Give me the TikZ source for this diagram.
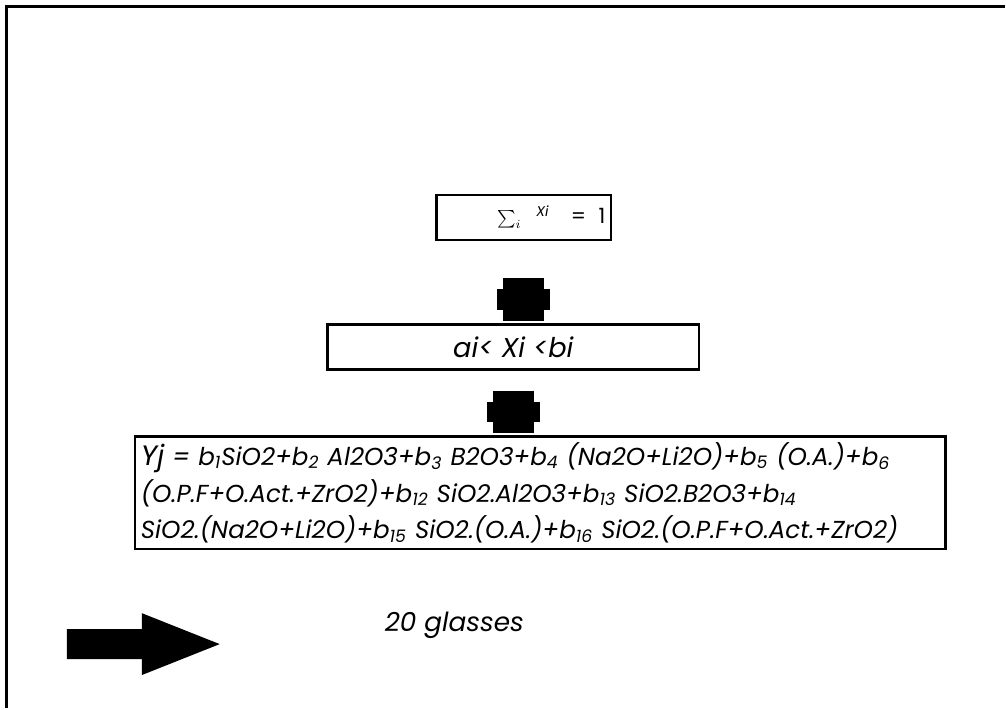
\documentclass[tikz,border=0pt]{standalone}
\usepackage{fontspec}
\setmainfont{Poppins}
\usetikzlibrary{positioning}
\newcommand{\bcoef}[1]{b\textsubscript{#1}}

\begin{document}
\begin{tikzpicture}[
    x=0.02cm, y=-0.02cm,
    box/.style={rectangle, draw=black, line width=1.3pt, inner sep=0pt, font=\itshape},
    plug/.style={line width=0.82cm, black},
    plugmid/.style={line width=1.06cm, black},
    frame/.style={line width=1.6pt}
]
\fill[white] (0,0) rectangle (1006,709);
% Frame
\draw[frame] (6.5,709) -- (6.5,6.5) -- (1006,6.5);

% Constraints
\node[box, minimum width=3.5cm, minimum height=0.9cm] (sum) at (524.5,217.5) {\hspace{1.1cm}$\sum_i$\hspace{0.3cm}\raisebox{4pt}{\footnotesize Xi}\hspace{0.45cm}{\large\upshape =\hspace{0.25cm}1}};
\node[box, minimum width=7.44cm, minimum height=0.9cm, font=\fontsize{15.5}{18}\selectfont\itshape] (bnd) at (514,347.5) {ai< Xi <bi\hspace{0.88cm}};

% Model
\node[box, minimum width=16.24cm, minimum height=2.26cm, align=left, text width=16cm, font=\fontsize{14}{21}\selectfont\itshape] (model) at (541,493.5) {{\fontsize{16}{21}\selectfont Yj} = \bcoef{1}SiO2+\bcoef{2} Al2O3+\bcoef{3} B2O3+\bcoef{4} (Na2O+Li2O)+\bcoef{5} (O.A.)+\bcoef{6}\\
(O.P.F+O.Act.+ZrO2)+\bcoef{12} SiO2.Al2O3+\bcoef{13} SiO2.B2O3+\bcoef{14}\\
SiO2.(Na2O+Li2O)+\bcoef{15} SiO2.(O.A.)+\bcoef{16} SiO2.(O.P.F+O.Act.+ZrO2)};

% Connectors
\draw[plug, shorten <=0.74cm, shorten >=0.04cm] (sum.south) -- (sum.south |- bnd.north);
\draw[plugmid, shorten <=0.96cm, shorten >=0.26cm] (sum.south) -- (sum.south |- bnd.north);
\draw[plug, shorten <=0.4cm, shorten >=0.04cm] (bnd.south) -- (bnd.south |- model.north);
\draw[plugmid, shorten <=0.62cm, shorten >=0.26cm] (bnd.south) -- (bnd.south |- model.north);

% Glasses
\node[font=\fontsize{15}{18}\selectfont\itshape] (num) at (455,626) {20 glasses};
\fill (67,630) -- (142,630) -- (142,614) -- (220,645) -- (142,676) -- (142,660) -- (67,660) -- cycle;

\end{tikzpicture}
\end{document}
